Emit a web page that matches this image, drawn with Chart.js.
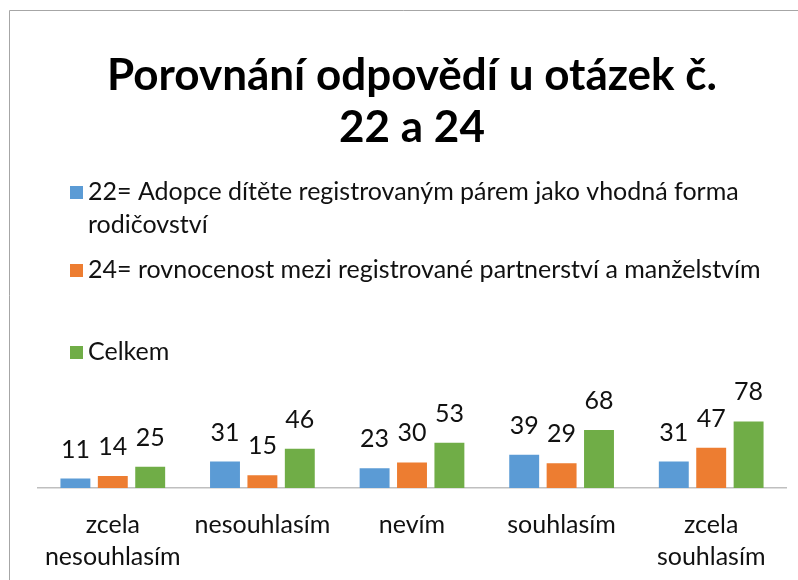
<!DOCTYPE html>
<html lang="cs">
<head>
  <meta charset="UTF-8" />
  <title>Porovnání odpovědí u otázek č. 22 a 24</title>
  <style>
    body { margin: 0; background: #fff; }
    #wrap { position: relative; width: 798px; height: 580px; }
  </style>
</head>
<body>
<div id="wrap"><canvas id="chart"></canvas></div>

<script src="https://cdn.jsdelivr.net/npm/chart.js@4.4.3"></script>
<script>
  const categories = [['zcela', 'nesouhlasím'], 'nesouhlasím', 'nevím', 'souhlasím', ['zcela', 'souhlasím']];
  const seriesNames = [
    '22= Adopce dítěte registrovaným párem jako vhodná forma rodičovství',
    '24= rovnocenost mezi registrované partnerství a manželstvím',
    'Celkem'
  ];
  const q22 = [11, 31, 23, 39, 31];
  const q24 = [14, 15, 30, 29, 47];
  const total = [25, 46, 53, 68, 78];
  // legend lines as they wrap in the original
  const legendLines = [
    ['22= Adopce dítěte registrovaným párem jako vhodná forma', 'rodičovství'],
    ['24= rovnocenost mezi registrované partnerství a manželstvím'],
    ['Celkem']
  ];

  const colors = ['#5b9bd5', '#ed7d31', '#70ad47'];
  const FONT = 'Lato, "Open Sans", sans-serif';

  const frame = {
    id: 'frame',
    beforeDraw(chart) {
      const ctx = chart.ctx;
      ctx.save();
      ctx.strokeStyle = '#a6a6a6';
      ctx.lineWidth = 1;
      ctx.beginPath();
      ctx.moveTo(9.5, chart.height);
      ctx.lineTo(9.5, 10.5);
      ctx.lineTo(chart.width, 10.5);
      ctx.stroke();
      ctx.restore();
    }
  };

  const legendBox = {
    id: 'legendBox',
    afterDraw(chart) {
      const ctx = chart.ctx;
      const rows = [192, 270, 352];
      ctx.save();
      ctx.font = '25px ' + FONT;
      ctx.textBaseline = 'middle';
      legendLines.forEach((lines, i) => {
        const y = rows[i];
        ctx.fillStyle = chart.data.datasets[i].backgroundColor;
        ctx.fillRect(70, y - 6, 13, 13);
        ctx.fillStyle = '#111';
        lines.forEach((t, j) => ctx.fillText(t, 88, y + j * 33));
      });
      ctx.restore();
    }
  };

  const valueLabels = {
    id: 'valueLabels',
    afterDatasetsDraw(chart) {
      const ctx = chart.ctx;
      ctx.save();
      ctx.font = '25px ' + FONT;
      ctx.fillStyle = '#111';
      ctx.textAlign = 'center';
      ctx.textBaseline = 'middle';
      chart.data.datasets.forEach((ds, i) => {
        chart.getDatasetMeta(i).data.forEach((bar, j) => {
          ctx.fillText(ds.data[j], bar.x, bar.y - 29);
        });
      });
      ctx.restore();
    }
  };

  new Chart(document.getElementById('chart'), {
    type: 'bar',
    data: {
      labels: categories,
      datasets: [
        { label: seriesNames[0], data: q22, backgroundColor: colors[0] },
        { label: seriesNames[1], data: q24, backgroundColor: colors[1] },
        { label: seriesNames[2], data: total, backgroundColor: colors[2] }
      ]
    },
    options: {
      responsive: true,
      maintainAspectRatio: false,
      animation: false,
      categoryPercentage: 0.75,
      barPercentage: 0.8,
      layout: { padding: { left: 38, right: 12, top: 0, bottom: 0 } },
      plugins: {
        legend: { display: false },
        tooltip: { enabled: false },
        title: {
          display: true,
          text: ['Porovnání odpovědí u otázek č.', '22 a 24'],
          color: '#000',
          font: { family: FONT, size: 44, weight: 'bold', lineHeight: 1.2 },
          padding: { top: 49, bottom: 248 }
        }
      },
      scales: {
        x: {
          grid: { display: false },
          border: { display: true, color: '#bfbfbf', width: 1.5 },
          afterFit(scale) { scale.height = 92; },
          ticks: {
            color: '#111',
            font: { family: FONT, size: 25, lineHeight: 1.28 },
            padding: 13,
            maxRotation: 0,
            autoSkip: false
          }
        },
        y: { display: false, min: 0, max: 100 }
      }
    },
    plugins: [frame, legendBox, valueLabels]
  });
</script>
</body>
</html>
